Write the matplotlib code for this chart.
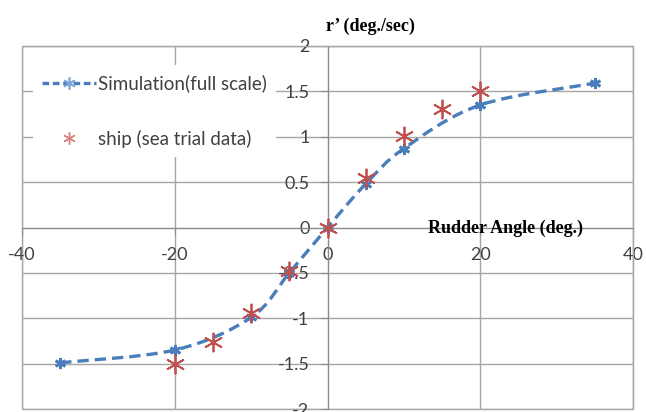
import matplotlib.pyplot as plt
from matplotlib.path import Path
from matplotlib.patches import PathPatch, Rectangle
from matplotlib.lines import Line2D

plt.rcParams['axes.unicode_minus'] = False

# simulated turning rate (full scale)
sim_angle = [-35, -20, -10, -5, 0, 5, 10, 20, 35]
sim_rate = [-1.49, -1.35, -0.99, -0.50, 0.0, 0.48, 0.87, 1.35, 1.59]

# sea trial measurements
trial_angle = [-20, -15, -10, -5, 0, 5, 10, 15, 20]
trial_rate = [-1.50, -1.26, -0.94, -0.48, 0.0, 0.55, 1.01, 1.31, 1.50]

x_ticks = [-40, -20, 0, 20, 40]
y_ticks = [-2, -1.5, -1, -0.5, 0, 0.5, 1, 1.5, 2]
y_tick_labels = ['-2', '-1.5', '-1', '-0.5', '0', '0.5', '1', '1.5', '2']

blue = '#4a7ebb'
red = '#c0504d'
grid_col = '#a6a6a6'
txt_col = '#404040'
star = (6, 2, 0)


def smooth_path(xs, ys):
    # bezier segments through the points, like a spreadsheet "smoothed line"
    pts = list(zip(xs, ys))
    n = len(pts)
    verts = [pts[0]]
    codes = [Path.MOVETO]
    for i in range(n - 1):
        p0 = pts[max(i - 1, 0)]
        p1 = pts[i]
        p2 = pts[i + 1]
        p3 = pts[min(i + 2, n - 1)]
        c1 = (p1[0] + (p2[0] - p0[0]) / 6, p1[1] + (p2[1] - p0[1]) / 6)
        c2 = (p2[0] - (p3[0] - p1[0]) / 6, p2[1] - (p3[1] - p1[1]) / 6)
        verts += [c1, c2, p2]
        codes += [Path.CURVE4] * 3
    return Path(verts, codes)


fig = plt.figure(figsize=(6.46, 4.12), dpi=100)
ax = fig.add_axes([22 / 646, 3 / 412, 611 / 646, 363 / 412])

ax.set_xlim(-40, 40)
ax.set_ylim(-2, 2)
ax.set_xticks(x_ticks)
ax.set_yticks(y_ticks)
ax.set_yticklabels(y_tick_labels)
ax.grid(True, color=grid_col, linewidth=1.0)
ax.set_axisbelow(True)

# axes cross at the origin, plot area keeps a full border
ax.spines['left'].set_position(('data', 0))
ax.spines['bottom'].set_position(('data', 0))
for s in ['left', 'bottom']:
    ax.spines[s].set_color('#8c8c8c')
for s in ['top', 'right']:
    ax.spines[s].set_color(grid_col)
ax.add_patch(Rectangle((0, 0), 1, 1, transform=ax.transAxes, fill=False,
                       edgecolor=grid_col, linewidth=1.0, clip_on=False, zorder=0))

ax.tick_params(axis='both', colors='#8c8c8c', labelcolor=txt_col, labelsize=13, length=5)
ax.tick_params(axis='y', pad=8)
ax.tick_params(axis='x', pad=9)
for lab in ax.get_xticklabels() + ax.get_yticklabels():
    lab.set_fontfamily('Lato')

ax.add_patch(PathPatch(smooth_path(sim_angle, sim_rate), fill=False, edgecolor=blue,
                       linewidth=2.4, linestyle=(0, (3.4, 1.8)), zorder=3))
ax.plot(sim_angle, sim_rate, linestyle='none', marker=star, markersize=8,
        markeredgewidth=2.0, color=blue, zorder=4)
ax.plot(trial_angle, trial_rate, linestyle='none', marker=star, markersize=14,
        markeredgewidth=1.3, color=red, zorder=5)

handles = [
    Line2D([], [], color=blue, linewidth=2.4, linestyle=(0, (2.0, 1.1)),
           marker=star, markersize=9, markeredgewidth=1.2, markeredgecolor='#7fa8d9'),
    Line2D([], [], linestyle='none', marker=star, markersize=9,
           markeredgewidth=1.0, color='#d9827f'),
]
leg = ax.legend(handles, ['Simulation(full scale)', 'ship (sea trial data)'],
                loc='upper left', bbox_to_anchor=(0.002, 0.974), frameon=True,
                facecolor='white', edgecolor='none', framealpha=1, fancybox=False,
                handlelength=2.9, handletextpad=0.1, labelspacing=2.0,
                borderpad=0.5, prop={'family': 'Lato', 'size': 13.5})
for t in leg.get_texts():
    t.set_color(txt_col)

fig.text(370 / 646, 1 - 30.5 / 412, 'r\u2019 (deg./sec)', ha='center', va='baseline',
         fontfamily='Liberation Serif', fontweight='bold', fontsize=13)
fig.text(505 / 646, 1 - 233 / 412, 'Rudder Angle (deg.)', ha='center', va='baseline',
         fontfamily='Liberation Serif', fontweight='bold', fontsize=13)

fig.savefig('out.png', dpi=100)
